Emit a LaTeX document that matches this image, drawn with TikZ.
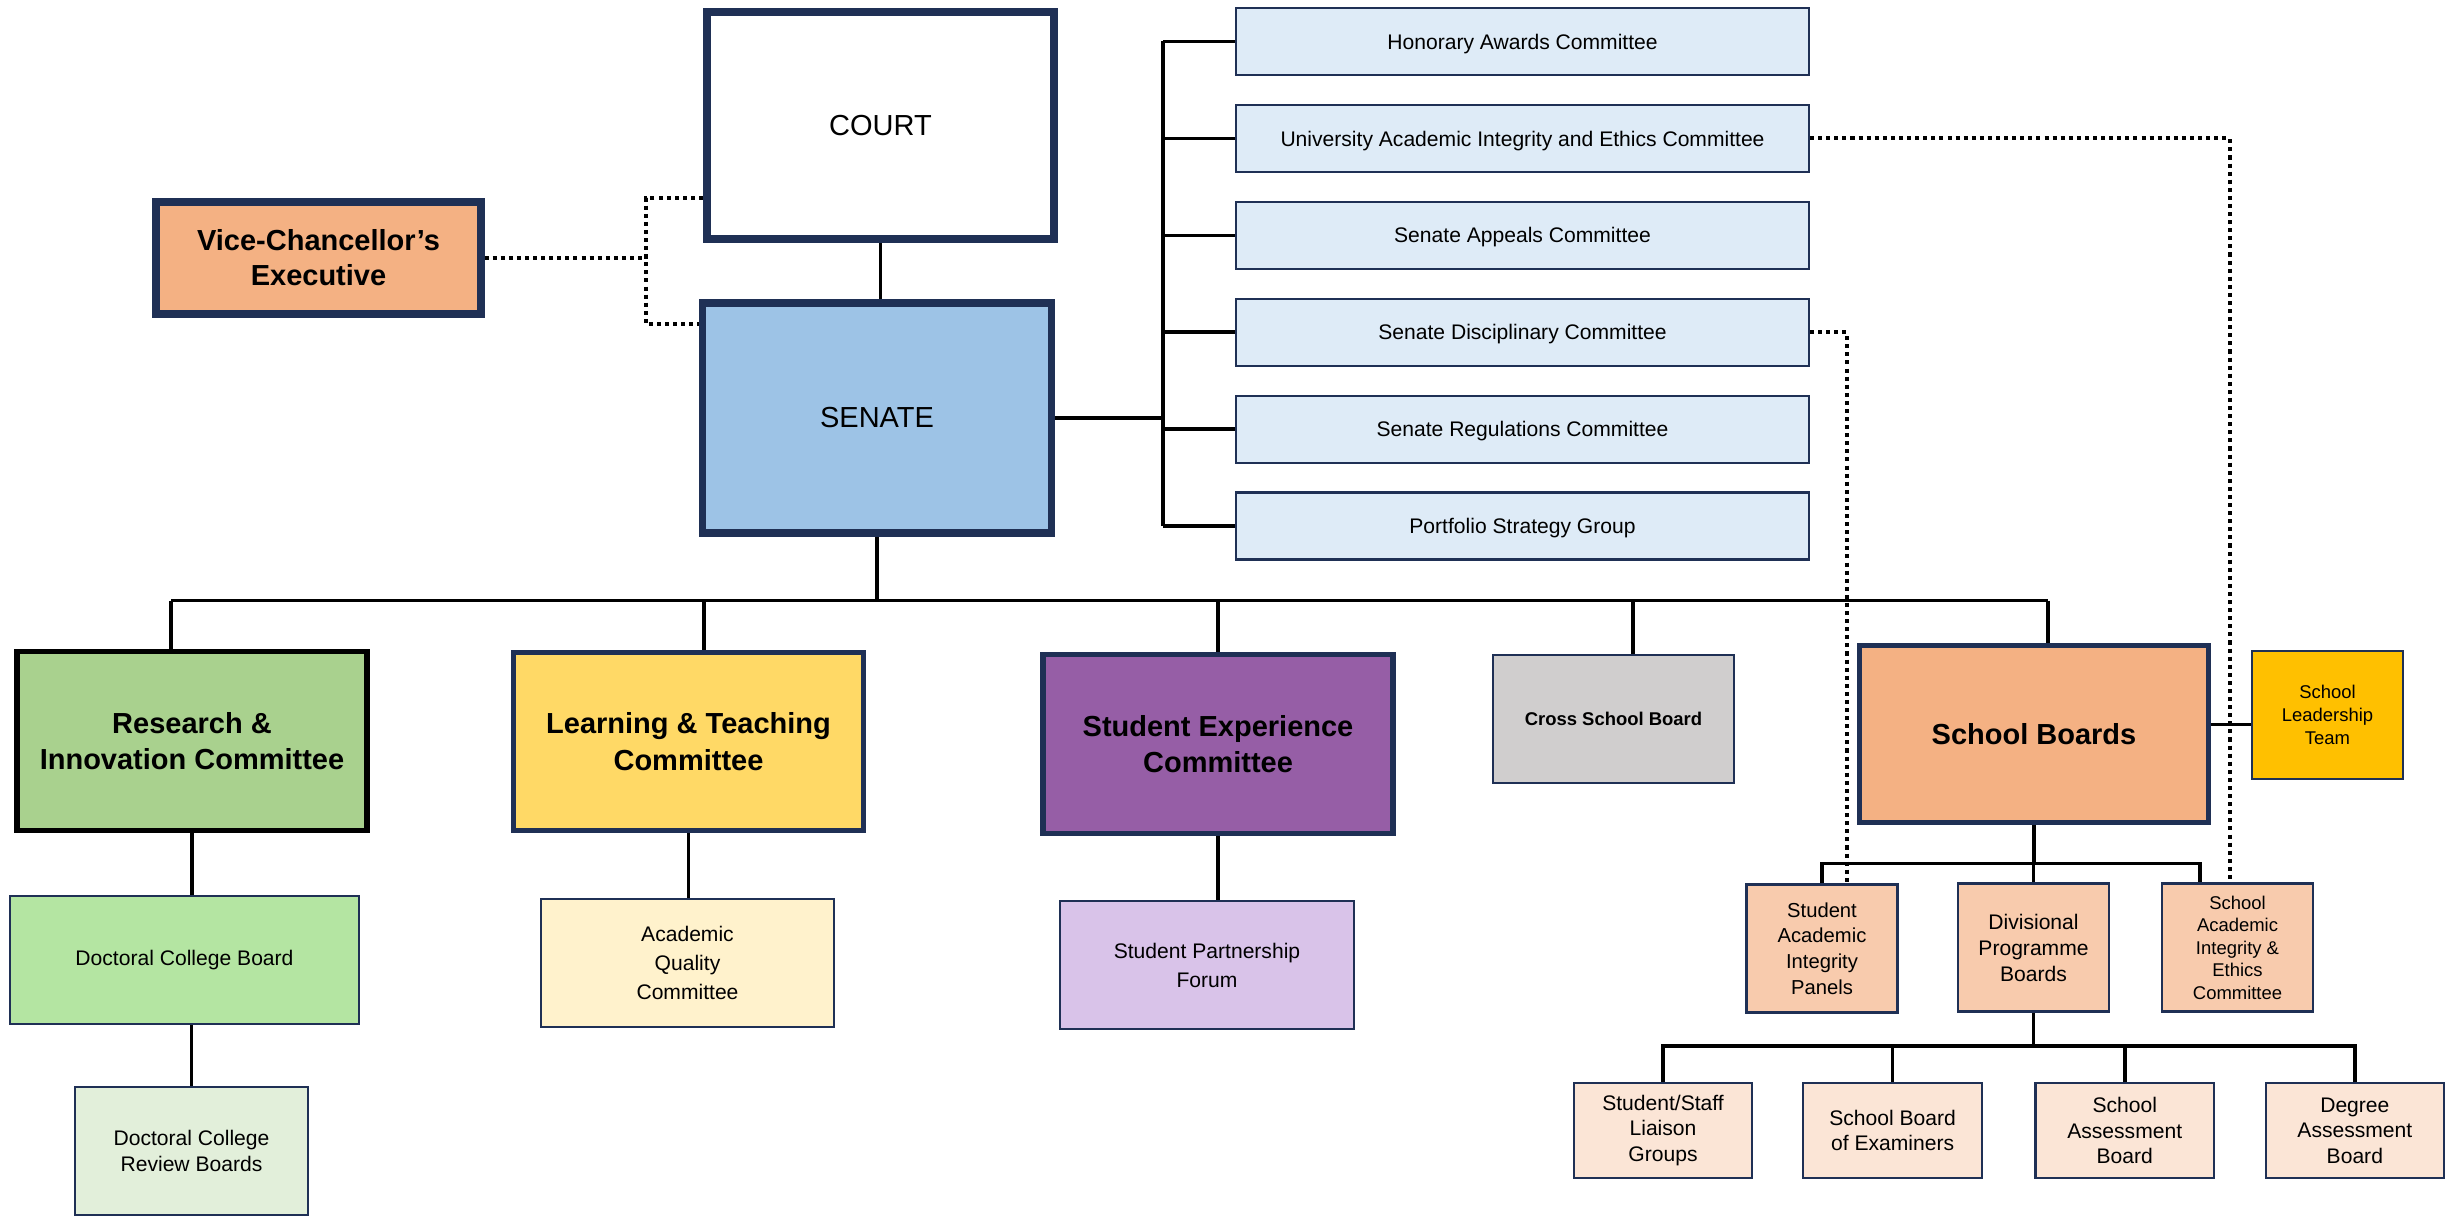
\documentclass[tikz,border=0pt]{standalone}
\usepackage{fontspec}
\setmainfont{Liberation Sans}
\usetikzlibrary{positioning,calc}

\definecolor{navy}{HTML}{1F3055}
\definecolor{senateblue}{HTML}{9DC3E6}
\definecolor{vcorange}{HTML}{F4B183}
\definecolor{commblue}{HTML}{DEEBF7}
\definecolor{resgreen}{HTML}{A9D18E}
\definecolor{ltyellow}{HTML}{FFD966}
\definecolor{sepurple}{HTML}{965EA6}
\definecolor{crossgrey}{HTML}{D0CECE}
\definecolor{sltgold}{HTML}{FFC000}
\definecolor{dcbgreen}{HTML}{B4E5A2}
\definecolor{dcrbgreen}{HTML}{E2EFDA}
\definecolor{aqcyellow}{HTML}{FFF2CC}
\definecolor{spflilac}{HTML}{D9C3E9}
\definecolor{peach}{HTML}{F8CBAD}
\definecolor{peachlight}{HTML}{FBE5D6}

\begin{document}
\begin{tikzpicture}[y=-1cm,
   orgbox/.style={rectangle,draw=navy,line width=1.2pt,align=center,inner sep=2pt,minimum height=2.56cm},
   headbox/.style={orgbox,line width=4.3pt,font=\fontsize{16.5}{20}\selectfont},
   mainbox/.style={orgbox,line width=3pt,minimum width=7cm,minimum height=3.57cm,font=\fontsize{16.5}{20.7}\selectfont\bfseries},
   commbox/.style={orgbox,fill=commblue,minimum width=11.46cm,minimum height=1.34cm,text depth=0pt,font=\fontsize{12}{14.4}\selectfont},
   subbox/.style={orgbox,fill=peach,minimum width=3.02cm},
   lowbox/.style={orgbox,fill=peachlight,minimum width=3.57cm,minimum height=1.9cm,font=\fontsize{12}{14.6}\selectfont},
   conn/.style={line width=2pt},
   dots/.style={line width=2.3pt,dash pattern=on 2.3pt off 2.3pt}]
   \useasboundingbox (0,0) rectangle (48.96,24.34);

   \node[headbox,minimum width=6.95cm,minimum height=4.55cm]                 (court)  at (17.61,2.51) {COURT};
   \node[headbox,fill=senateblue,minimum width=6.98cm,minimum height=4.61cm] (senate) at (17.54,8.36) {SENATE};
   \node[headbox,fill=vcorange,minimum width=6.49cm,minimum height=2.23cm,
         font=\fontsize{16.5}{19.9}\selectfont\bfseries]                     (vce)    at (6.37,5.16)  {Vice-Chancellor’s\\Executive};

   \node[commbox] (hac)   at (30.45,0.83)       {Honorary Awards Committee};
   \node[commbox] (uaiec) [below=0.556cm of hac]   {University Academic Integrity and Ethics Committee};
   \node[commbox] (sac)   [below=0.556cm of uaiec] {Senate Appeals Committee};
   \node[commbox] (sdc)   [below=0.556cm of sac]   {Senate Disciplinary Committee};
   \node[commbox] (src)   [below=0.556cm of sdc]   {Senate Regulations Committee};
   \node[commbox] (psg)   [below=0.556cm of src]   {Portfolio Strategy Group};

   \node[mainbox,draw=black,fill=resgreen] (research) at (3.84,14.82)  {Research \&\\Innovation Committee};
   \node[mainbox,fill=ltyellow]            (lt)       at (13.77,14.83) {Learning \& Teaching\\Committee};
   \node[mainbox,fill=sepurple]            (se)       at (24.36,14.88) {Student Experience\\Committee};
   \node[orgbox,fill=crossgrey,minimum width=4.82cm,
         font=\fontsize{10.5}{12.6}\selectfont\bfseries] (cross) at (32.27,14.38) {Cross School Board};
   \node[mainbox,fill=vcorange,minimum width=6.97cm,minimum height=3.54cm] (sb) at (40.68,14.68) {School Boards};
   \node[orgbox,fill=sltgold,minimum width=3.02cm,
         font=\fontsize{10.5}{12.9}\selectfont] (slt) at (46.55,14.30) {School\\Leadership\\Team};

   \node[orgbox,fill=dcbgreen,minimum width=6.98cm,font=\fontsize{12}{14.4}\selectfont]  (dcb)  at (3.69,19.20)  {Doctoral College Board};
   \node[orgbox,fill=dcrbgreen,minimum width=4.66cm,font=\fontsize{12}{14.3}\selectfont] (dcrb) at (3.83,23.02)  {Doctoral College\\Review Boards};
   \node[orgbox,fill=aqcyellow,minimum width=5.86cm,font=\fontsize{12}{16.5}\selectfont] (aqc)  at (13.75,19.26) {Academic\\Quality\\Committee};
   \node[orgbox,fill=spflilac,minimum width=5.88cm,font=\fontsize{12}{16.5}\selectfont]  (spf)  at (24.14,19.30) {Student Partnership\\Forum};

   \node[subbox,font=\fontsize{11.5}{14.6}\selectfont] (saip)  at (36.44,18.97) {Student\\Academic\\Integrity\\Panels};
   \node[subbox,font=\fontsize{12}{14.8}\selectfont]   (dpb)   at (40.67,18.95) {Divisional\\Programme\\Boards};
   \node[subbox,font=\fontsize{10.5}{12.8}\selectfont] (saiec) at (44.75,18.95) {School\\Academic\\Integrity \&\\Ethics\\Committee};

   \node[lowbox] (sslg) at (33.26,22.61)        {Student/Staff\\Liaison\\Groups};
   \node[lowbox] (sbe)  [right=0.98cm of sslg] {School Board\\of Examiners};
   \node[lowbox] (sab)  [right=1.03cm of sbe]  {School\\Assessment\\Board};
   \node[lowbox] (dab)  [right=0.99cm of sab]  {Degree\\Assessment\\Board};

   \coordinate (vj)   at (12.92,5.16);
   \coordinate (tr)   at (23.26,0);
   \coordinate (bus)  at (0,12.01);
   \coordinate (sbus) at (0,17.27);
   \coordinate (bbus) at (0,20.92);
   \path (research.north) ++(-0.42,0) coordinate (d1)
         (lt.north)       ++(0.31,0)  coordinate (d2)
         (cross.north)    ++(0.39,0)  coordinate (d3)
         (sb.north)       ++(0.28,0)  coordinate (d4)
         (saiec.north)    ++(-0.75,0) coordinate (d5)
         (sb.east)        ++(0,-0.19) coordinate (d6);

   \draw[conn] (court.south) -- (court.south |- senate.north);
   \draw[dots] (vce.east) -- (vj);
   \draw[dots] ([yshift=-1.45cm]court.west) -| (vj) |- ([yshift=1.88cm]senate.west);

   \draw[conn] (senate.east) -- (senate.east -| tr);
   \draw[conn] (tr |- hac.west) -- (tr |- psg.west);
   \foreach \c in {hac,uaiec,sac,sdc,src,psg}
      \draw[conn] (tr |- \c.west) -- (\c.west);
   \draw[dots] (uaiec.east) -| ([xshift=-0.16cm]saiec.north);
   \draw[dots] (sdc.east) -| ([xshift=0.49cm]saip.north);

   \draw[conn] (senate.south) -- (senate.south |- bus);
   \draw[conn] (d1 |- bus) -- (d4 |- bus);
   \draw[conn] (d1 |- bus) -- (d1);
   \draw[conn] (d2 |- bus) -- (d2);
   \draw[conn] (se.north |- bus) -- (se.north);
   \draw[conn] (d3 |- bus) -- (d3);
   \draw[conn] (d4 |- bus) -- (d4);

   \draw[conn] (research.south) -- (research.south |- dcb.north);
   \draw[conn] (dcrb.north) -- (dcrb.north |- dcb.south);
   \draw[conn] (lt.south) -- (lt.south |- aqc.north);
   \draw[conn] (se.south) -- (se.south |- spf.north);

   \draw[conn] (d6) -- (d6 -| slt.west);
   \draw[conn] (sb.south) -- (sb.south |- sbus);
   \draw[conn] (saip.north) |- (d5 |- sbus) -- (d5);
   \draw[conn] (dpb.north) -- (dpb.north |- sbus);

   \draw[conn] (dpb.south) -- (dpb.south |- bbus);
   \draw[conn] (sslg.north) |- (dab.north |- bbus) -- (dab.north);
   \foreach \n in {sbe,sab}
      \draw[conn] (\n.north) -- (\n.north |- bbus);
\end{tikzpicture}
\end{document}
